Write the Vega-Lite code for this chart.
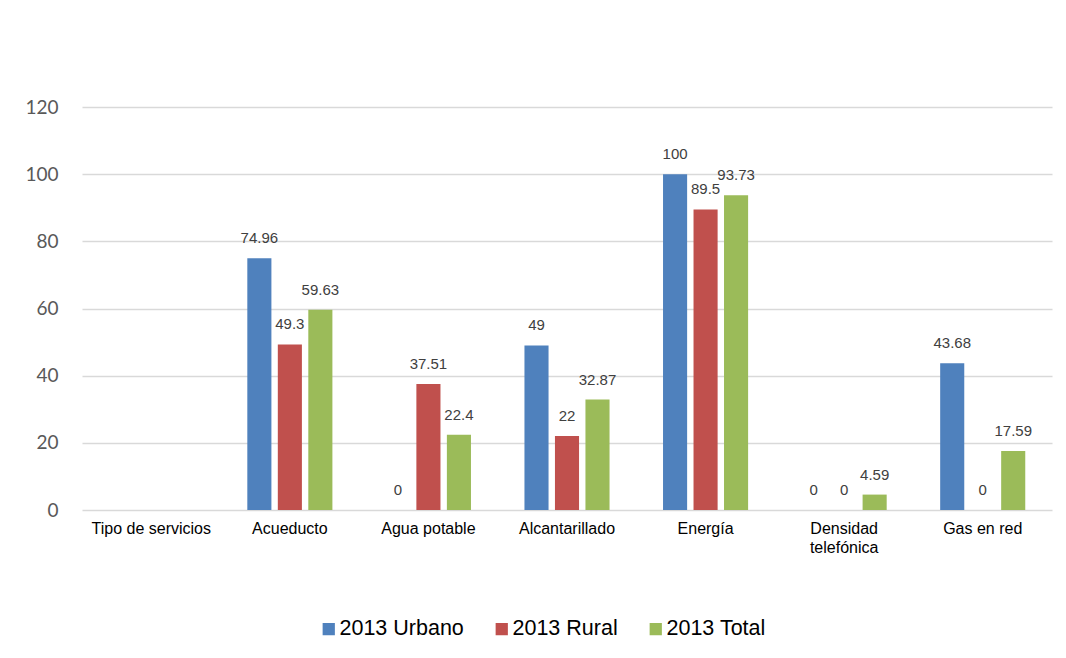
{
  "$schema": "https://vega.github.io/schema/vega-lite/v6.json",
  "width": 970,
  "height": 403,
  "autosize": "none",
  "padding": {"left": 82, "top": 107, "right": 14, "bottom": 148},
  "background": "white",
  "config": {"view": {"stroke": null}},
  "data": {"values": [
    {"cat": "Acueducto", "serie": "2013 Urbano", "v": 74.96},
    {"cat": "Acueducto", "serie": "2013 Rural", "v": 49.3},
    {"cat": "Acueducto", "serie": "2013 Total", "v": 59.63},
    {"cat": "Agua potable", "serie": "2013 Urbano", "v": 0},
    {"cat": "Agua potable", "serie": "2013 Rural", "v": 37.51},
    {"cat": "Agua potable", "serie": "2013 Total", "v": 22.4},
    {"cat": "Alcantarillado", "serie": "2013 Urbano", "v": 49},
    {"cat": "Alcantarillado", "serie": "2013 Rural", "v": 22},
    {"cat": "Alcantarillado", "serie": "2013 Total", "v": 32.87},
    {"cat": "Energía", "serie": "2013 Urbano", "v": 100},
    {"cat": "Energía", "serie": "2013 Rural", "v": 89.5},
    {"cat": "Energía", "serie": "2013 Total", "v": 93.73},
    {"cat": "Densidad telefónica", "serie": "2013 Urbano", "v": 0},
    {"cat": "Densidad telefónica", "serie": "2013 Rural", "v": 0},
    {"cat": "Densidad telefónica", "serie": "2013 Total", "v": 4.59},
    {"cat": "Gas en red", "serie": "2013 Urbano", "v": 43.68},
    {"cat": "Gas en red", "serie": "2013 Rural", "v": 0},
    {"cat": "Gas en red", "serie": "2013 Total", "v": 17.59}
  ]},
  "encoding": {
    "x": {
      "field": "cat", "type": "nominal",
      "scale": {
        "domain": ["Tipo de servicios", "Acueducto", "Agua potable", "Alcantarillado", "Energía", "Densidad telefónica", "Gas en red"],
        "paddingInner": 0.386, "paddingOuter": 0.193
      },
      "axis": {
        "title": null, "labelAngle": 0, "ticks": false, "domain": false,
        "labelFont": "Liberation Sans", "labelFontSize": 16, "labelColor": "#000000",
        "labelPadding": 10, "labelLineHeight": 19,
        "labelExpr": "datum.label == 'Densidad telefónica' ? ['Densidad', 'telefónica'] : datum.label"
      }
    },
    "xOffset": {
      "field": "serie", "type": "nominal",
      "scale": {"domain": ["2013 Urbano", "2013 Rural", "2013 Total"], "paddingInner": 0.21, "paddingOuter": 0}
    },
    "y": {
      "field": "v", "type": "quantitative",
      "scale": {"domain": [0, 120], "nice": false},
      "axis": {
        "title": null, "values": [0, 20, 40, 60, 80, 100, 120],
        "ticks": false, "domain": false,
        "gridColor": "#d9d9d9", "gridWidth": 1.3,
        "labelFont": "Lato", "labelFontSize": 19, "labelColor": "#595959",
        "labelPadding": 24
      }
    }
  },
  "layer": [
    {
      "mark": {"type": "bar"},
      "encoding": {
        "color": {
          "field": "serie", "type": "nominal",
          "scale": {"domain": ["2013 Urbano", "2013 Rural", "2013 Total"], "range": ["#4f81bd", "#c0504d", "#9bbb59"]},
          "legend": {
            "title": null, "orient": "none", "direction": "horizontal",
            "legendX": 236, "legendY": 511,
            "symbolType": "square", "symbolSize": 150, "symbolStrokeWidth": 0,
            "labelFont": "Liberation Sans", "labelFontSize": 21.5, "labelColor": "#000000",
            "labelOffset": 0, "columnPadding": 27
          }
        }
      }
    },
    {
      "mark": {"type": "text", "baseline": "alphabetic", "dy": -15, "font": "Liberation Sans", "fontSize": 15, "color": "#404040"},
      "encoding": {
        "text": {"field": "v", "type": "nominal"}
      }
    }
  ]
}
